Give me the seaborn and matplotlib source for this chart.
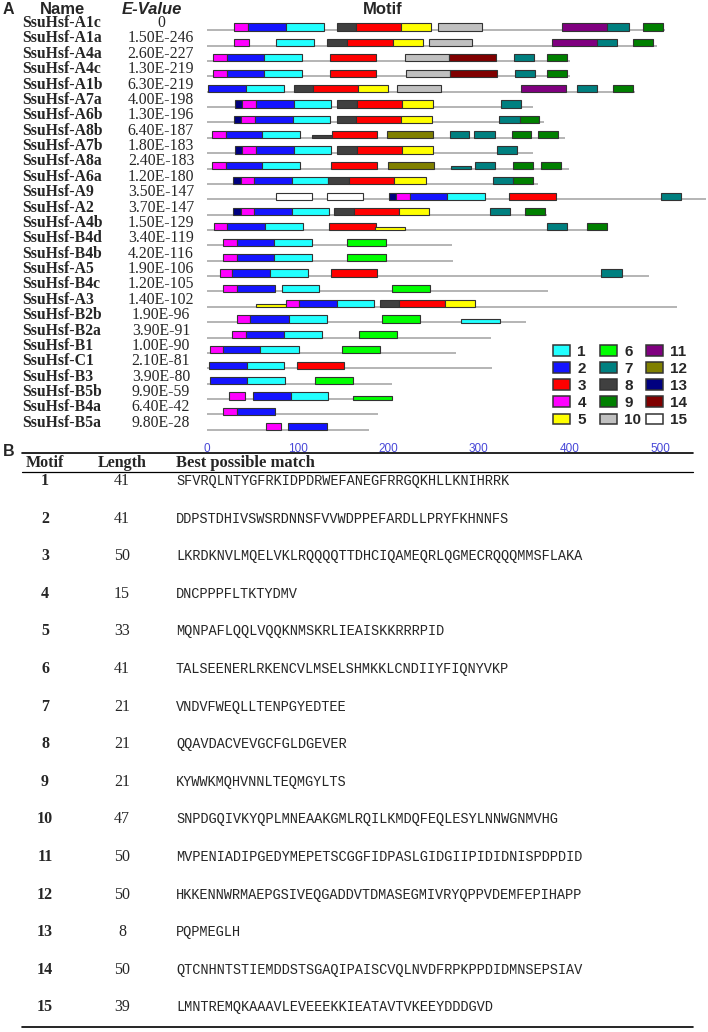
import matplotlib
matplotlib.use("Agg")
import matplotlib.pyplot as plt
import matplotlib.transforms as mtransforms
from matplotlib.patches import Patch
import seaborn as sns
import pandas as pd

# ---- data ----
gene_names = ["SsuHsf-A1c", "SsuHsf-A1a", "SsuHsf-A4a", "SsuHsf-A4c", "SsuHsf-A1b", "SsuHsf-A7a",
              "SsuHsf-A6b", "SsuHsf-A8b", "SsuHsf-A7b", "SsuHsf-A8a", "SsuHsf-A6a", "SsuHsf-A9",
              "SsuHsf-A2", "SsuHsf-A4b", "SsuHsf-B4d", "SsuHsf-B4b", "SsuHsf-A5", "SsuHsf-B4c",
              "SsuHsf-A3", "SsuHsf-B2b", "SsuHsf-B2a", "SsuHsf-B1", "SsuHsf-C1", "SsuHsf-B3",
              "SsuHsf-B5b", "SsuHsf-B4a", "SsuHsf-B5a"]
e_values = ["0", "1.50E-246", "2.60E-227", "1.30E-219", "6.30E-219", "4.00E-198", "1.30E-196",
            "6.40E-187", "1.80E-183", "2.40E-183", "1.20E-180", "3.50E-147", "3.70E-147",
            "1.50E-129", "3.40E-119", "4.20E-116", "1.90E-106", "1.20E-105", "1.40E-102",
            "1.90E-96", "3.90E-91", "1.00E-90", "2.10E-81", "3.90E-80", "9.90E-59", "6.40E-42",
            "9.80E-28"]
protein_length = [505, 497, 401, 401, 472, 360, 372, 395, 360, 400, 365, 551, 375, 443, 270, 272,
                  488, 376, 519, 352, 314, 275, 315, 204, 204, 189, 179]

# motif sites per gene: (motif, start, end); a trailing "w" marks a weak (thin) site
motif_sites = [
    [(4, 30, 45), (2, 45, 87), (1, 87, 129), (8, 143, 164), (3, 164, 214), (5, 214, 247),
     (10, 255, 303), (11, 392, 442), (7, 442, 466), (9, 481, 503)],
    [(4, 30, 46), (1, 76, 118), (8, 132, 154), (3, 154, 205), (5, 205, 238), (10, 245, 293),
     (11, 381, 430), (7, 430, 453), (9, 470, 492)],
    [(4, 7, 22), (2, 22, 63), (1, 63, 105), (3, 136, 187), (10, 219, 267), (14, 267, 319),
     (7, 339, 361), (9, 375, 397)],
    [(4, 7, 22), (2, 22, 63), (1, 63, 105), (3, 136, 187), (10, 220, 268), (14, 268, 320),
     (7, 340, 362), (9, 375, 397)],
    [(2, 1, 43), (1, 43, 85), (8, 96, 117), (3, 117, 167), (5, 167, 200), (10, 210, 258),
     (11, 347, 396), (7, 408, 430), (9, 448, 470)],
    [(13, 31, 39), (4, 39, 54), (2, 54, 96), (1, 96, 137), (8, 144, 166), (3, 166, 215),
     (5, 215, 249), (7, 324, 347)],
    [(13, 30, 38), (4, 38, 53), (2, 53, 95), (1, 95, 136), (8, 143, 165), (3, 165, 214),
     (5, 214, 248), (7, 322, 345), (9, 345, 366)],
    [(4, 5, 21), (2, 21, 61), (1, 61, 103), (8, 116, 138, "w"), (3, 138, 188), (12, 199, 249),
     (7, 268, 289), (7, 295, 318), (9, 337, 358), (9, 365, 387)],
    [(13, 31, 39), (4, 39, 54), (2, 54, 96), (1, 96, 137), (8, 144, 166), (3, 166, 215),
     (5, 215, 249), (7, 320, 342)],
    [(4, 5, 21), (2, 21, 61), (1, 61, 103), (3, 137, 188), (12, 200, 250), (7, 269, 291, "w"),
     (7, 296, 318), (9, 338, 360), (9, 369, 391)],
    [(13, 29, 37), (4, 37, 52), (2, 52, 94), (1, 94, 134), (8, 134, 157), (3, 157, 206),
     (5, 206, 242), (7, 316, 338), (9, 338, 360)],
    [(15, 76, 116), (15, 132, 172), (13, 201, 209), (4, 209, 224), (2, 224, 265), (1, 265, 307),
     (3, 333, 385), (7, 501, 523)],
    [(13, 29, 37), (4, 37, 52), (2, 52, 94), (1, 94, 135), (8, 140, 162), (3, 162, 212),
     (5, 212, 245), (7, 312, 334), (9, 351, 373)],
    [(4, 8, 22), (2, 22, 64), (1, 64, 106), (3, 135, 187), (5, 185, 219, "w"), (7, 375, 397),
     (9, 419, 441)],
    [(4, 18, 33), (2, 33, 74), (1, 74, 116), (6, 155, 198)],
    [(4, 18, 33), (2, 33, 74), (1, 74, 116), (6, 155, 198)],
    [(4, 14, 28), (2, 28, 70), (1, 70, 112), (3, 137, 188), (7, 435, 458)],
    [(4, 18, 33), (2, 33, 75), (1, 83, 124), (6, 204, 246)],
    [(5, 54, 87, "w"), (4, 87, 102), (2, 102, 143), (1, 143, 184), (8, 191, 212), (3, 212, 263),
     (5, 263, 296)],
    [(4, 33, 48), (2, 48, 90), (1, 90, 132), (6, 193, 235), (1, 280, 323, "w")],
    [(4, 28, 43), (2, 43, 85), (1, 85, 127), (6, 168, 210)],
    [(4, 3, 18), (2, 18, 59), (1, 59, 101), (6, 149, 191)],
    [(2, 2, 44), (1, 44, 85), (3, 99, 151)],
    [(2, 3, 44), (1, 44, 86), (6, 119, 161)],
    [(4, 24, 42), (2, 51, 93), (1, 93, 134), (6, 161, 204, "w")],
    [(4, 18, 33), (2, 33, 75)],
    [(4, 65, 82), (2, 89, 132)],
]

motif_ids = list(range(1, 16))
motif_colors = ["#22FFFF", "#1414FF", "#FF0000", "#FF00FF", "#FFFF00", "#00FF00", "#008080",
                "#404040", "#008000", "#C0C0C0", "#800080", "#808000", "#000080", "#800000",
                "#FFFFFF"]
motif_lengths = [41, 41, 50, 15, 33, 41, 21, 21, 21, 47, 50, 50, 8, 50, 39]
motif_seqs = [
    "SFVRQLNTYGFRKIDPDRWEFANEGFRRGQKHLLKNIHRRK",
    "DDPSTDHIVSWSRDNNSFVVWDPPEFARDLLPRYFKHNNFS",
    "LKRDKNVLMQELVKLRQQQQTTDHCIQAMEQRLQGMECRQQQMMSFLAKA",
    "DNCPPPFLTKTYDMV",
    "MQNPAFLQQLVQQKNMSKRLIEAISKKRRRPID",
    "TALSEENERLRKENCVLMSELSHMKKLCNDIIYFIQNYVKP",
    "VNDVFWEQLLTENPGYEDTEE",
    "QQAVDACVEVGCFGLDGEVER",
    "KYWWKMQHVNNLTEQMGYLTS",
    "SNPDGQIVKYQPLMNEAAKGMLRQILKMDQFEQLESYLNNWGNMVHG",
    "MVPENIADIPGEDYMEPETSCGGFIDPASLGIDGIIPIDIDNISPDPDID",
    "HKKENNWRMAEPGSIVEQGADDVTDMASEGMIVRYQPPVDEMFEPIHAPP",
    "PQPMEGLH",
    "QTCNHNTSTIEMDDSTSGAQIPAISCVQLNVDFRPKPPDIDMNSEPSIAV",
    "LMNTREMQKAAAVLEVEEEKKIEATAVTVKEEYDDDGVD",
]

# ---- tidy table of sites ----
rows = []
for gi, sites in enumerate(motif_sites):
    for s in sites:
        rows.append({"gene": gi, "motif": s[0], "start": s[1], "end": s[2],
                     "weak": len(s) > 3})
sites_df = pd.DataFrame(rows)

sns.set_theme(style="white")
plt.rcParams["font.family"] = ["Liberation Sans", "DejaVu Sans"]

W, H = 708, 1032
fig = plt.figure(figsize=(W / 100, H / 100), dpi=100)


def fy(y):
    return 1 - y / H


n = len(gene_names)
row_px = 15.37
top_line = 30.2
ax_top, ax_bot = 18, 439
ax = fig.add_axes([207 / W, fy(ax_bot), (W - 207) / W, (ax_bot - ax_top) / H])
ax.set_xlim(0, (W - 207) / 0.906)
ax.set_ylim((n - 1) + (ax_bot - top_line - (n - 1) * row_px) / row_px,
            -(top_line - ax_top) / row_px)

# backbone lines
for gi in range(n):
    ax.plot([0, protein_length[gi]], [gi, gi], color="#A8A8A8", lw=1.2, zorder=1,
            solid_capstyle="butt")

# motif boxes
box_h = 0.47
thin_h = 0.22
for _, r in sites_df.iterrows():
    h = thin_h if r["weak"] else box_h
    ax.barh(r["gene"] - h / 2 + 0.03, r["end"] - r["start"], height=h, left=r["start"],
            color=motif_colors[r["motif"] - 1], edgecolor="#333333", linewidth=0.8, zorder=3)

for s in ax.spines.values():
    s.set_visible(False)
ax.set_yticks([])
ax.set_xticks(range(0, 501, 100))
ax.set_xticks(range(0, 541, 20), minor=True)
ax.tick_params(axis="x", which="major", colors="#4848D8", length=4, width=1.2,
               direction="inout", labelsize=8.5, pad=1)
ax.tick_params(axis="x", which="minor", colors="#4848D8", length=1.5, width=1.5,
               direction="inout")
ax.grid(False)

# name / e-value columns
tr = mtransforms.blended_transform_factory(fig.transFigure, ax.transData)
for gi in range(n):
    ax.text(22 / W, gi - 0.2, gene_names[gi], transform=tr, ha="left", va="baseline",
            fontsize=11.3, fontweight="bold", family="Liberation Serif", clip_on=False)
    ax.text(161 / W, gi - 0.2, e_values[gi], transform=tr, ha="center", va="baseline",
            fontsize=11.3, family="Liberation Serif", clip_on=False)

# headers
fig.text(3 / W, fy(9), "A", fontsize=11.5, fontweight="bold", va="center")
fig.text(40 / W, fy(9), "Name", fontsize=12, fontweight="bold", va="center")
fig.text(122 / W, fy(9), "E-Value", fontsize=12, fontweight="bold", style="italic",
         va="center")
fig.text(383 / W, fy(9), "Motif", fontsize=12, fontweight="bold", va="center", ha="center")

# legend: three columns of five
col_x = [553, 600, 646]
for c in range(3):
    handles = [Patch(facecolor=motif_colors[m - 1], edgecolor="#333333", linewidth=1.1,
                     label=str(m)) for m in motif_ids[c * 5:(c + 1) * 5]]
    fig.legend(handles=handles, ncol=1, loc="upper left",
               bbox_to_anchor=(col_x[c] / W, fy(345)), frameon=False,
               prop={"weight": "bold", "size": 11}, handlelength=1.1,
               handleheight=0.7, handletextpad=0.5, labelspacing=0.2,
               borderpad=0, borderaxespad=0)

# ---- panel B table ----
tb_top = 453
hdr_base = 467
hdr_rule = 472
row0 = 485
tb_step = 37.6
tb_left, tb_right = 22, 693
fig.text(3 / W, fy(452), "B", fontsize=11.5, fontweight="bold", va="center")
fig.add_artist(plt.Line2D([tb_left / W, tb_right / W], [fy(tb_top)] * 2, color="black",
                          lw=1.2))
fig.add_artist(plt.Line2D([tb_left / W, tb_right / W], [fy(hdr_rule)] * 2, color="black",
                          lw=0.9))
bot = row0 + (len(motif_ids) - 1) * tb_step + 16
fig.add_artist(plt.Line2D([tb_left / W, tb_right / W], [fy(bot)] * 2, color="black",
                          lw=1.2))

serif = "Liberation Serif"
seq_x = 176
fig.text(45 / W, fy(hdr_base), "Motif", ha="center", va="baseline", fontsize=11.5,
         fontweight="bold", family=serif)
fig.text(122 / W, fy(hdr_base), "Length", ha="center", va="baseline", fontsize=11.5,
         fontweight="bold", family=serif)
fig.text(seq_x / W, fy(hdr_base), "Best possible match", ha="left", va="baseline",
         fontsize=12, fontweight="bold", family=serif)
for k, m in enumerate(motif_ids):
    yb = fy(row0 + k * tb_step)
    fig.text(45 / W, yb, str(m), ha="center", va="baseline", fontsize=11.5,
             fontweight="bold", family=serif)
    fig.text(122 / W, yb, str(motif_lengths[k]), ha="center", va="baseline", fontsize=11.5,
             family=serif)
    fig.text(seq_x / W, yb, motif_seqs[k], ha="left", va="baseline", fontsize=9.8,
             family="Liberation Mono")

fig.savefig("out.png", dpi=100)
